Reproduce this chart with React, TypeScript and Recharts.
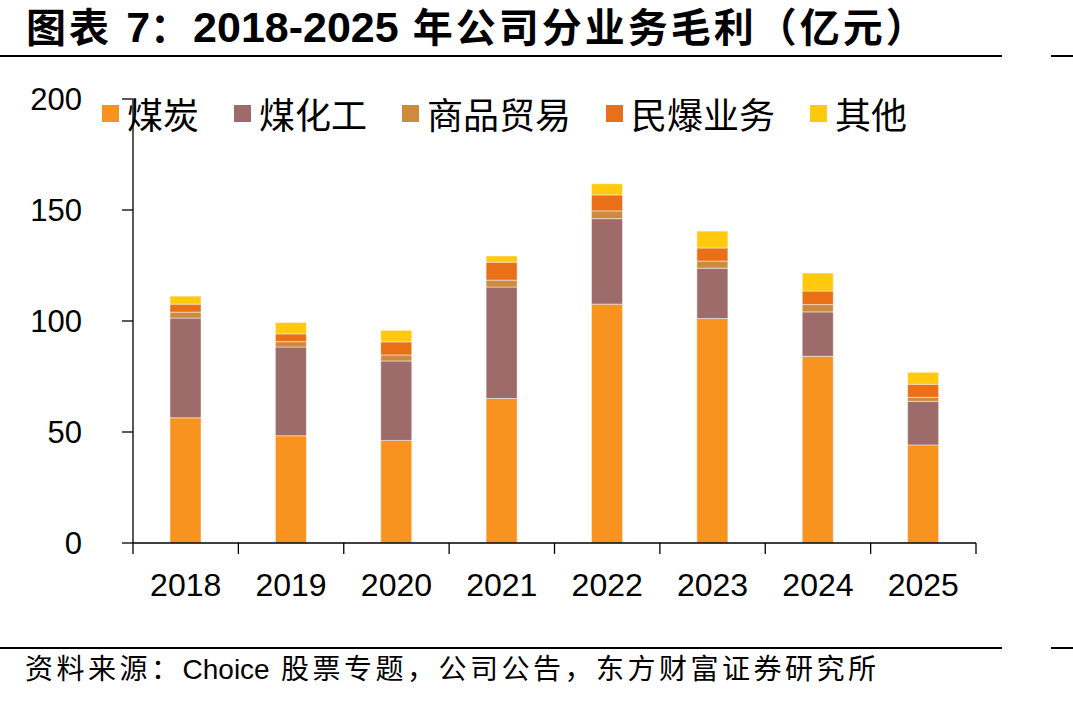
import { BarChart, Bar, XAxis, YAxis, Legend } from "recharts";

const YEARS = ["2018", "2019", "2020", "2021", "2022", "2023", "2024", "2025"];

// 亿元, stacked bottom to top
const COAL = [56.4, 48.3, 46.2, 65.1, 107.6, 101.1, 84.1, 44.2];
const COAL_CHEM = [44.9, 40.0, 35.8, 50.2, 38.5, 22.7, 20.0, 19.6];
const TRADING = [2.7, 2.4, 2.7, 3.1, 3.5, 3.2, 3.3, 1.8];
const EXPLOSIVES = [3.6, 3.5, 5.9, 8.1, 7.2, 5.9, 6.1, 5.9];
const OTHER = [3.6, 5.1, 5.2, 2.8, 5.0, 7.6, 8.1, 5.4];

const Y_TICKS = [0, 50, 100, 150, 200];

const SERIES = [
  { key: "coal", name: "煤炭", color: "#F7931E" },
  { key: "coalChem", name: "煤化工", color: "#9E6B6B" },
  { key: "trading", name: "商品贸易", color: "#CD8B40" },
  { key: "explosives", name: "民爆业务", color: "#EA7018" },
  { key: "other", name: "其他", color: "#FFC90E" },
];

const data = YEARS.map((year, i) => ({
  year,
  coal: COAL[i],
  coalChem: COAL_CHEM[i],
  trading: TRADING[i],
  explosives: EXPLOSIVES[i],
  other: OTHER[i],
}));

const W = 1073;
const CHART_H = 620;
const MARGIN = { top: 99, right: 97, bottom: 0, left: 0 };
const Y_AXIS_W = 133;
const PLOT_W = W - MARGIN.left - MARGIN.right - Y_AXIS_W;
const BAND = PLOT_W / YEARS.length;

const LATIN = '"Liberation Sans", Arial, "Noto Sans CJK SC", sans-serif';
const CJK = '"Noto Sans CJK SC", sans-serif';

// tick marks sit on the category boundaries, labels in the middle
function YearTick(props: any) {
  const { x, y, payload, index } = props;
  const left = x - BAND / 2;
  const right = x + BAND / 2;
  return (
    <g>
      <line x1={left} x2={left} y1={y} y2={y + 11} stroke="#000" strokeWidth={1.3} />
      {index === YEARS.length - 1 && (
        <line x1={right} x2={right} y1={y} y2={y + 11} stroke="#000" strokeWidth={1.3} />
      )}
      <text x={x} y={y + 53} textAnchor="middle" fontSize={32} fill="#000" fontFamily={LATIN}>
        {payload.value}
      </text>
    </g>
  );
}

// legend keeps the stacking order (bottom series first)
function LegendRow() {
  return (
    <div style={{ display: "flex", alignItems: "center", whiteSpace: "nowrap" }}>
      {SERIES.map((s) => (
        <div key={s.key} style={{ display: "flex", alignItems: "center", marginRight: 35 }}>
          <span style={{ width: 17, height: 17, background: s.color, marginRight: 8 }} />
          <span style={{ fontFamily: CJK, fontSize: 36, lineHeight: "40px", color: "#000" }}>
            {s.name}
          </span>
        </div>
      ))}
    </div>
  );
}

const rule = (top: number) => (
  <>
    <div style={{ position: "absolute", left: 0, top, width: 1002, height: 2, background: "#000" }} />
    <div style={{ position: "absolute", left: 1051, top, width: 22, height: 2, background: "#000" }} />
  </>
);

const tight = { letterSpacing: 0, fontSize: 43 };

export default function App() {
  return (
    <div style={{ position: "absolute", left: 0, top: 0, width: W, height: 701, background: "#fff" }}>
      <div
        style={{
          position: "absolute",
          left: 26,
          top: 3,
          fontFamily: LATIN,
          fontWeight: 700,
          fontSize: 40,
          lineHeight: "48px",
          letterSpacing: 3,
          color: "#000",
          whiteSpace: "nowrap",
        }}
      >
        图表 <span style={tight}>7</span>：<span style={tight}>2018-2025</span> 年公司分业务毛利（亿元）
      </div>
      {rule(55)}

      <div style={{ position: "absolute", left: 0, top: 0 }}>
        <BarChart width={W} height={CHART_H} data={data} margin={MARGIN}>
          <XAxis
            dataKey="year"
            axisLine={{ stroke: "#000", strokeWidth: 1.3 }}
            tickLine={false}
            tickSize={0}
            tickMargin={0}
            height={CHART_H - 543}
            tick={<YearTick />}
            interval={0}
          />
          <YAxis
            width={Y_AXIS_W}
            domain={[0, 200]}
            ticks={Y_TICKS}
            axisLine={{ stroke: "#000", strokeWidth: 1.3 }}
            tickLine={{ stroke: "#000", strokeWidth: 1.3 }}
            tickSize={11}
            tickMargin={40}
            tick={{ fill: "#000", fontSize: 31, fontFamily: LATIN }}
          />
          <Legend
            layout="horizontal"
            verticalAlign="middle"
            align="center"
            wrapperStyle={{ left: 102, top: 93, width: "auto" }}
            content={<LegendRow />}
          />
          {SERIES.map((s) => (
            <Bar
              key={s.key}
              dataKey={s.key}
              name={s.name}
              stackId="biz"
              fill={s.color}
              barSize={31}
              stroke="#ffffff"
              strokeOpacity={0.45}
              strokeWidth={1}
              isAnimationActive={false}
            />
          ))}
        </BarChart>
      </div>

      {rule(647)}
      <div
        style={{
          position: "absolute",
          left: 25,
          top: 655,
          fontFamily: LATIN,
          fontSize: 28,
          lineHeight: "30px",
          letterSpacing: 3.5,
          color: "#000",
          whiteSpace: "nowrap",
        }}
      >
        资料来源：<span style={{ letterSpacing: 0 }}>Choice</span> 股票专题，公司公告，东方财富证券研究所
      </div>
    </div>
  );
}
